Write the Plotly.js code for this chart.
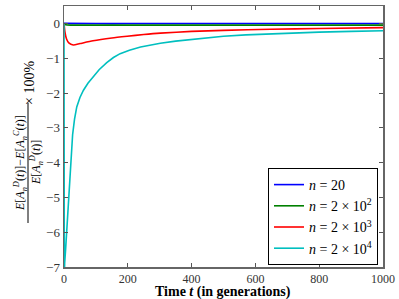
<!DOCTYPE html>
<html><head><meta charset="utf-8">
<script src="https://cdn.plot.ly/plotly-3.0.1.min.js"></script>
<style>html,body{margin:0;padding:0;background:#fff;}#chart{width:399px;height:299px;}</style>
</head><body><div id="chart"></div>
<script>
const seriesNames = ["<i>n</i> = 20", "<i>n</i> = 2 × 10<sup>2</sup>", "<i>n</i> = 2 × 10<sup>3</sup>", "<i>n</i> = 2 × 10<sup>4</sup>"];
const tBlue = [0, 100, 200, 400, 600, 800, 1000];
const vBlue = [0, -0.005, -0.005, -0.005, -0.005, -0.005, -0.005];
const tGreen = [0, 3, 10, 30, 100, 200, 400, 600, 800, 1000];
const vGreen = [0, -0.03, -0.045, -0.05, -0.05, -0.05, -0.05, -0.05, -0.05, -0.05];
const tRed = [0, 3, 8, 15, 29, 50, 91, 150, 198, 250, 302, 400, 500, 648, 800, 1000];
const vRed = [0, -0.25, -0.45, -0.56, -0.62, -0.58, -0.50, -0.42, -0.37, -0.32, -0.28, -0.23, -0.20, -0.17, -0.145, -0.12];
const tCyan = [0, 1, 2, 5, 8, 11, 14, 19, 23, 27, 33, 40, 50, 61, 75, 92, 110, 134, 155, 176, 205, 240, 270, 302, 350, 400, 450, 500, 570, 648, 720, 800, 900, 1000];
const vCyan = [0, -7.3, -6.9, -6.5, -6.04, -5.55, -5.09, -4.3, -3.7, -3.2, -2.75, -2.4, -2.13, -1.92, -1.72, -1.52, -1.33, -1.13, -0.98, -0.87, -0.77, -0.68, -0.62, -0.57, -0.51, -0.46, -0.41, -0.37, -0.33, -0.3, -0.27, -0.25, -0.23, -0.21];
const xTicks = [0, 200, 400, 600, 800, 1000];
const yTicks = [-7, -6, -5, -4, -3, -2, -1, 0];
const yTickLabels = ["−7", "−6", "−5", "−4", "−3", "−2", "−1", "0"];
const colors = ["#0000ff", "#008000", "#ff0000", "#00bfbf"];

const ts = [tBlue, tGreen, tRed, tCyan];
const vs = [vBlue, vGreen, vRed, vCyan];
const traces = ts.map((t, i) => ({
  x: t, y: vs[i], type: "scatter", mode: "lines", name: seriesNames[i],
  line: {color: colors[i], width: 1.6, shape: i === 3 ? "linear" : "spline", smoothing: 0.6}
}));

const W = 399, H = 299, L = 64, R = 16, T = 6, B = 32;
const px = p => (p - L) / (W - L - R);
const py = p => (H - B - p) / (H - T - B);
const serif = "Liberation Serif, DejaVu Serif, serif";
const ann = (x, y, text, size, angle) => ({xref: "paper", yref: "paper", x: px(x), y: py(y),
  xanchor: "center", yanchor: "middle", showarrow: false, textangle: angle || 0,
  text: text, font: {family: serif, size: size, color: "#000"}});

const layout = {
  width: W, height: H,
  margin: {l: L, r: R, t: T, b: B, pad: 0},
  paper_bgcolor: "#fff", plot_bgcolor: "#fff",
  font: {family: serif, size: 12, color: "#222"},
  showlegend: true,
  legend: {x: px(378), y: py(265), xanchor: "right", yanchor: "bottom",
    bordercolor: "#000", borderwidth: 1, bgcolor: "#fff",
    font: {family: serif, size: 14, color: "#000"}, tracegroupgap: 0},
  xaxis: {range: [0, 1000], tickvals: xTicks, ticktext: xTicks.map(String),
    ticks: "inside", ticklen: 4, tickcolor: "#555", mirror: "ticks",
    showline: true, linecolor: "#666", linewidth: 1.5, showgrid: false, zeroline: false,
    tickfont: {family: serif, size: 12, color: "#333"}},
  yaxis: {range: [-7, 0.5], tickvals: yTicks, ticktext: yTickLabels,
    ticks: "inside", ticklen: 4, tickcolor: "#555", mirror: "ticks",
    showline: true, linecolor: "#666", linewidth: 1.5, showgrid: false, zeroline: false,
    tickfont: {family: serif, size: 13, color: "#333"}},
  annotations: [
    ann(223, 292, "<b>Time <i>t</i> (in generations)</b>", 14, 0),
    ann(20, 163, "<i>E</i>[<i>A</i><sub><i>n</i></sub><sup><i>D</i></sup>(<i>t</i>)]−<i>E</i>[<i>A</i><sub><i>n</i></sub><sup><i>C</i></sup>(<i>t</i>)]", 12, -90),
    ann(36, 163, "<i>E</i>[<i>A</i><sub><i>n</i></sub><sup><i>D</i></sup>(<i>t</i>)]", 12, -90),
    ann(29, 83, "× 100%", 14, -90)
  ],
  shapes: [
    {type: "line", xref: "paper", yref: "paper", x0: px(28), x1: px(28), y0: py(103), y1: py(223),
     line: {color: "#000", width: 1}}
  ]
};
Plotly.newPlot("chart", traces, layout, {displayModeBar: false, staticPlot: true});
</script></body></html>
